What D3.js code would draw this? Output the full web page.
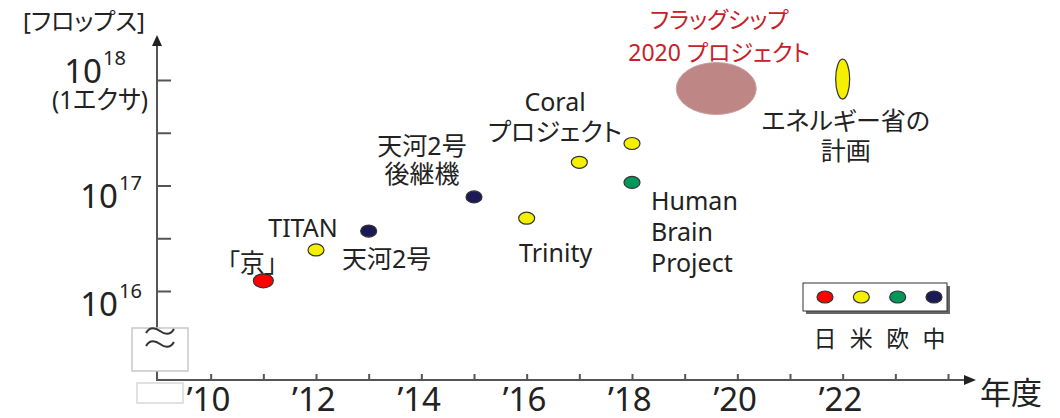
<!DOCTYPE html>
<html>
<head>
<meta charset="utf-8">
<script src="https://cdn.jsdelivr.net/npm/d3@7"></script>
<style>
  body { margin: 0; background: #fff; }
  svg text { font-family: "Noto Sans", "Noto Sans CJK JP", sans-serif; font-feature-settings: "palt"; fill: #222; }
</style>
</head>
<body>
<div id="chart"></div>
<script>
// data
var names = ["「京」", "TITAN", "天河2号", "天河2号後継機", "Trinity", "Coral", "Coral 2018", "Human Brain Project", "フラッグシップ2020", "エネルギー省の計画"];
var years = [2011, 2012, 2013, 2015, 2016, 2017, 2018, 2018, 2019.6, 2022];
var flops = [1.25e16, 2.45e16, 3.7e16, 7.8e16, 4.9e16, 1.66e17, 2.5e17, 1.07e17, 8.3e17, 1.02e18];
var regions = ["日", "米", "中", "中", "米", "米", "米", "欧", "日", "米"];

var legendRegions = ["日", "米", "欧", "中"];
var yearTicks = [2010, 2011, 2012, 2013, 2014, 2015, 2016, 2017, 2018, 2019, 2020, 2021, 2022, 2023, 2024];
var yearLabels = [2010, 2012, 2014, 2016, 2018, 2020, 2022];
var powTicks = [16, 16.5, 17, 17.5, 18];

var width = 1060, height = 418;

var svg = d3.select("#chart").append("svg")
  .attr("width", width)
  .attr("height", height);

// 色
var color = d3.scaleOrdinal()
  .domain(["日", "米", "欧", "中"])
  .range(["#ff0000", "#f5f000", "#00985a", "#1b1a55"]);

// 比例尺
var x = d3.scaleLinear().domain([2009, 2024]).range([158, 948]);
var y = d3.scaleLog().domain([1e16, 1e18]).range([291, 80]);

var axisColor = "#555";

// y 軸
var yAxis = svg.append("g")
  .attr("transform", "translate(157,0)")
  .call(d3.axisRight(y)
    .tickValues(powTicks.map(function(p) { return Math.pow(10, p); }))
    .tickSize(14)
    .tickFormat(""));
yAxis.select(".domain").remove();
yAxis.selectAll("line").attr("stroke", axisColor).attr("stroke-width", 2);

svg.append("line")
  .attr("x1", 157).attr("x2", 157)
  .attr("y1", 44).attr("y2", 328)
  .attr("stroke", axisColor).attr("stroke-width", 2);
svg.append("path")
  .attr("d", "M157,35 L152,46 L162,46 Z")
  .attr("fill", "#222");
svg.append("line")
  .attr("x1", 157).attr("x2", 157)
  .attr("y1", 371).attr("y2", 381)
  .attr("stroke", axisColor).attr("stroke-width", 2);

// 省略記号
svg.append("rect")
  .attr("x", 132).attr("y", 328).attr("width", 56).attr("height", 43)
  .attr("fill", "#fff").attr("stroke", "#c8c8c8").attr("stroke-width", 1.5);
[331, 344].forEach(function(cy) {
  svg.append("path")
    .attr("d", "M146," + (cy + 2) + " C150," + (cy - 5) + " 156," + (cy - 3) + " 160," + cy +
      " S170," + (cy + 5) + " 174," + (cy - 2))
    .attr("fill", "none").attr("stroke", "#333").attr("stroke-width", 2);
});
svg.append("rect")
  .attr("x", 137).attr("y", 383).attr("width", 46).attr("height", 20)
  .attr("fill", "#fff").attr("stroke", "#d8d8d8").attr("stroke-width", 1.5);

// y 軸ラベル
var yLabel = [
  { p: 18, base: 83, x2: 102 },
  { p: 17, base: 208, x2: 118 },
  { p: 16, base: 316, x2: 118 }
];
yLabel.forEach(function(d) {
  svg.append("text")
    .attr("x", d.x2).attr("y", d.base)
    .attr("text-anchor", "end")
    .style("font-size", "33px")
    .text("10");
  svg.append("text")
    .attr("x", d.x2 + 1).attr("y", d.base - 18)
    .style("font-size", "20px")
    .text(d.p);
});
svg.append("text")
  .attr("x", 52).attr("y", 109)
  .attr("textLength", 96)
  .attr("lengthAdjust", "spacingAndGlyphs")
  .style("font-size", "26px")
  .text("(1エクサ)");
svg.append("text")
  .attr("x", 84).attr("y", 30)
  .attr("text-anchor", "middle")
  .style("font-size", "24px")
  .text("[フロップス]");

// x 軸
var xAxis = svg.append("g")
  .attr("transform", "translate(0,380)")
  .call(d3.axisBottom(x)
    .tickValues(yearTicks)
    .tickSizeInner(-6)
    .tickSizeOuter(0)
    .tickPadding(8)
    .tickFormat(function(d) {
      return yearLabels.indexOf(d) >= 0 ? "\u2019" + String(d).slice(2) : "";
    }));
xAxis.select(".domain").remove();
xAxis.selectAll("line").attr("stroke", axisColor).attr("stroke-width", 2);
xAxis.selectAll("text")
  .attr("fill", "#222")
  .attr("dx", "-0.08em")
  .style("font-size", "33px");

svg.append("line")
  .attr("x1", 157).attr("x2", 966)
  .attr("y1", 380).attr("y2", 380)
  .attr("stroke", axisColor).attr("stroke-width", 2);
svg.append("path")
  .attr("d", "M976,380 L964,375 L964,385 Z")
  .attr("fill", "#222");
svg.append("text")
  .attr("x", 980).attr("y", 404)
  .style("font-size", "31px")
  .text("年度");

// 点の大きさ
var markSize = {
  "「京」": [10, 7],
  "フラッグシップ2020": [40, 26],
  "エネルギー省の計画": [7, 20]
};

var pts = names.map(function(n, i) {
  return { name: n, year: years[i], flops: flops[i], region: regions[i] };
});

svg.selectAll("ellipse.pt")
  .data(pts)
  .join("ellipse")
  .attr("class", "pt")
  .attr("cx", function(d) { return x(d.year); })
  .attr("cy", function(d) { return y(d.flops); })
  .attr("rx", function(d) { return (markSize[d.name] || [8, 6])[0]; })
  .attr("ry", function(d) { return (markSize[d.name] || [8, 6])[1]; })
  .attr("fill", function(d) {
    return d.name == "フラッグシップ2020" ? "#bf8686" : color(d.region);
  })
  .attr("stroke", function(d) {
    return d.name == "フラッグシップ2020" ? "#c9a0a0" : "#333";
  })
  .attr("stroke-width", function(d) {
    return d.name == "フラッグシップ2020" ? 1 : 1.2;
  });

// ラベル（点からのずれ）
var labelPos = {
  "「京」": { dx: -11, dy: -9, lines: ["「京」"] },
  "TITAN": { dx: -13, dy: -13, lines: ["TITAN"] },
  "天河2号": { dx: 18, dy: 37, lines: ["天河2号"] },
  "天河2号後継機": { dx: -52, dy: -42, lines: ["天河2号", "後継機"], lh: 28 },
  "Trinity": { dx: 29, dy: 44, lines: ["Trinity"] },
  "Coral 2018": { dx: -77, dy: -33, lines: ["Coral", "プロジェクト"], lh: 30 },
  "Human Brain Project": { dx: 19, dy: 28, lines: ["Human", "Brain", "Project"], lh: 31, anchor: "start" },
  "フラッグシップ2020": { dx: 3, dy: -61, lines: ["フラッグシップ", "2020 プロジェクト"], lh: 33, fill: "#c8202a", size: 23 },
  "エネルギー省の計画": { dx: 3, dy: 51, lines: ["エネルギー省の", "計画"], lh: 30 }
};

pts.forEach(function(d) {
  var lp = labelPos[d.name];
  if (!lp) return;
  var t = svg.append("text")
    .attr("x", x(d.year) + lp.dx)
    .attr("y", y(d.flops) + lp.dy)
    .attr("text-anchor", lp.anchor || "middle")
    .style("font-size", (lp.size || 25) + "px")
    .style("fill", lp.fill || "#222");
  t.selectAll("tspan")
    .data(lp.lines)
    .join("tspan")
    .attr("x", x(d.year) + lp.dx)
    .attr("dy", function(s, i) { return i == 0 ? 0 : lp.lh; })
    .text(function(s) { return s; });
});

// 凡例
var lg = svg.append("g").attr("transform", "translate(803,283)");
lg.append("rect")
  .attr("x", 3).attr("y", 3).attr("width", 144).attr("height", 28)
  .attr("fill", "#666");
lg.append("rect")
  .attr("width", 144).attr("height", 28)
  .attr("fill", "#fff").attr("stroke", "#333").attr("stroke-width", 1);
var lx = d3.scalePoint().domain(legendRegions).range([22, 131]);
lg.selectAll("ellipse")
  .data(legendRegions)
  .join("ellipse")
  .attr("cx", function(d) { return lx(d); })
  .attr("cy", 14)
  .attr("rx", 8).attr("ry", 6)
  .attr("fill", function(d) { return color(d); })
  .attr("stroke", "#333").attr("stroke-width", 1.2);
lg.selectAll("text")
  .data(legendRegions)
  .join("text")
  .attr("x", function(d) { return lx(d); })
  .attr("y", 64)
  .attr("text-anchor", "middle")
  .style("font-size", "23px")
  .text(function(d) { return d; });
</script>
</body>
</html>
